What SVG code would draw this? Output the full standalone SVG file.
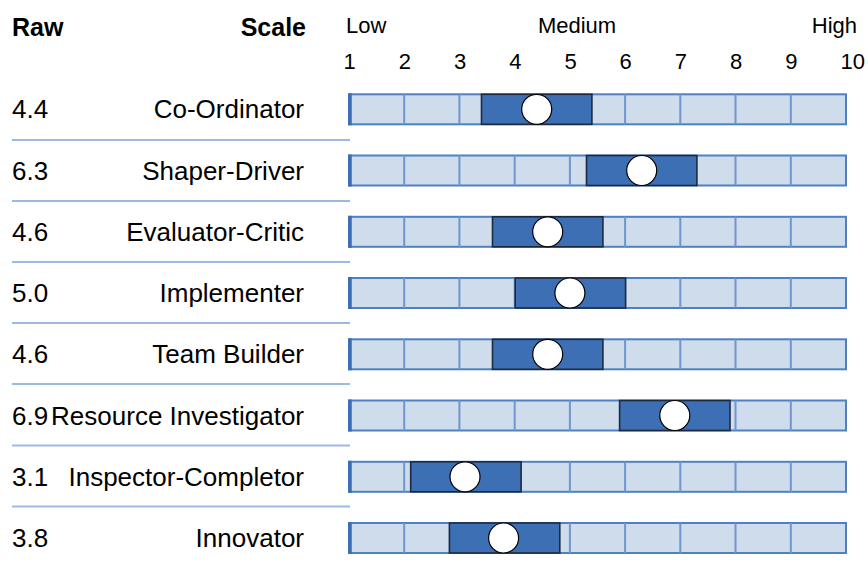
<svg xmlns="http://www.w3.org/2000/svg" width="868" height="563" viewBox="0 0 868 563">
<style>
text { font-family: "Liberation Sans", Arial, sans-serif; fill: #000; }
.hd { font-size: 25px; font-weight: bold; }
.top { font-size: 22px; }
.lbl { font-size: 26px; }
.end { text-anchor: end; }
.mid { text-anchor: middle; }
.bar { fill: #cfdcec; stroke: #4f81c2; stroke-width: 2; }
.edge { stroke: #3a6db4; stroke-width: 3.5; }
.div { stroke: #6f96cd; stroke-width: 2; }
.hi { fill: #3d6fb5; stroke: #1c2a40; stroke-width: 1.6; }
.dot { fill: #fff; stroke: #000; stroke-width: 1.2; }
.sep { stroke: #9cbae1; stroke-width: 2; }
</style>
<defs>
<g id="track">
<rect class="bar" x="349" y="0" width="497" height="30"/>
<path class="div" d="M404.2 0V30M459.4 0V30M514.7 0V30M569.9 0V30M625.1 0V30M680.3 0V30M735.5 0V30M790.8 0V30"/>
<line class="edge" x1="350" y1="-1" x2="350" y2="31"/>
</g>
</defs>
<g id="header">
<text class="hd" x="12" y="36">Raw</text>
<text class="hd end" x="306" y="36">Scale</text>
<text class="top" x="346" y="33">Low</text>
<text class="top mid" x="577" y="33">Medium</text>
<text class="top end" x="857" y="33">High</text>
<text class="top" x="343.5" y="69">1</text>
<text class="top" x="398.7" y="69">2</text>
<text class="top" x="453.9" y="69">3</text>
<text class="top" x="509.2" y="69">4</text>
<text class="top" x="564.4" y="69">5</text>
<text class="top" x="619.6" y="69">6</text>
<text class="top" x="674.8" y="69">7</text>
<text class="top" x="730" y="69">8</text>
<text class="top" x="785.3" y="69">9</text>
<text class="top" x="840.5" y="69">10</text>
</g>
<g id="separators">
<line class="sep" x1="12" y1="140" x2="350" y2="140"/>
<line class="sep" x1="12" y1="201" x2="350" y2="201"/>
<line class="sep" x1="12" y1="262" x2="350" y2="262"/>
<line class="sep" x1="12" y1="323" x2="350" y2="323"/>
<line class="sep" x1="12" y1="384" x2="350" y2="384"/>
<line class="sep" x1="12" y1="445.5" x2="350" y2="445.5"/>
<line class="sep" x1="12" y1="506.5" x2="350" y2="506.5"/>
</g>
<g id="row-coordinator" transform="translate(0,94.3)">
<text class="lbl" x="12" y="24">4.4</text>
<text class="lbl end" x="304" y="24">Co-Ordinator</text>
<use href="#track"/>
<rect class="hi" x="481.5" y="0" width="110.4" height="30"/>
<circle class="dot" cx="536.7" cy="15" r="15"/>
</g>
<g id="row-shaper" transform="translate(0,155.5)">
<text class="lbl" x="12" y="24">6.3</text>
<text class="lbl end" x="304" y="24">Shaper-Driver</text>
<use href="#track"/>
<rect class="hi" x="586.5" y="0" width="110.4" height="30"/>
<circle class="dot" cx="641.7" cy="15" r="15"/>
</g>
<g id="row-evaluator" transform="translate(0,216.8)">
<text class="lbl" x="12" y="24">4.6</text>
<text class="lbl end" x="304" y="24">Evaluator-Critic</text>
<use href="#track"/>
<rect class="hi" x="492.5" y="0" width="110.4" height="30"/>
<circle class="dot" cx="547.7" cy="15" r="15"/>
</g>
<g id="row-implementer" transform="translate(0,278)">
<text class="lbl" x="12" y="24">5.0</text>
<text class="lbl end" x="304" y="24">Implementer</text>
<use href="#track"/>
<rect class="hi" x="515.2" y="0" width="110.4" height="30"/>
<circle class="dot" cx="569.9" cy="15" r="15"/>
</g>
<g id="row-teambuilder" transform="translate(0,339.3)">
<text class="lbl" x="12" y="24">4.6</text>
<text class="lbl end" x="304" y="24">Team Builder</text>
<use href="#track"/>
<rect class="hi" x="492.5" y="0" width="110.4" height="30"/>
<circle class="dot" cx="547.7" cy="15" r="15"/>
</g>
<g id="row-resource" transform="translate(0,400.5)">
<text class="lbl" x="12" y="24">6.9</text>
<text class="lbl end" x="304" y="24">Resource Investigator</text>
<use href="#track"/>
<rect class="hi" x="619.6" y="0" width="110.4" height="30"/>
<circle class="dot" cx="674.8" cy="15" r="15"/>
</g>
<g id="row-inspector" transform="translate(0,461.8)">
<text class="lbl" x="12" y="24">3.1</text>
<text class="lbl end" x="304" y="24">Inspector-Completor</text>
<use href="#track"/>
<rect class="hi" x="410.7" y="0" width="110.4" height="30"/>
<circle class="dot" cx="465" cy="15" r="15"/>
</g>
<g id="row-innovator" transform="translate(0,523)">
<text class="lbl" x="12" y="24">3.8</text>
<text class="lbl end" x="304" y="24">Innovator</text>
<use href="#track"/>
<rect class="hi" x="449.4" y="0" width="110.4" height="30"/>
<circle class="dot" cx="503.6" cy="15" r="15"/>
</g>
</svg>
